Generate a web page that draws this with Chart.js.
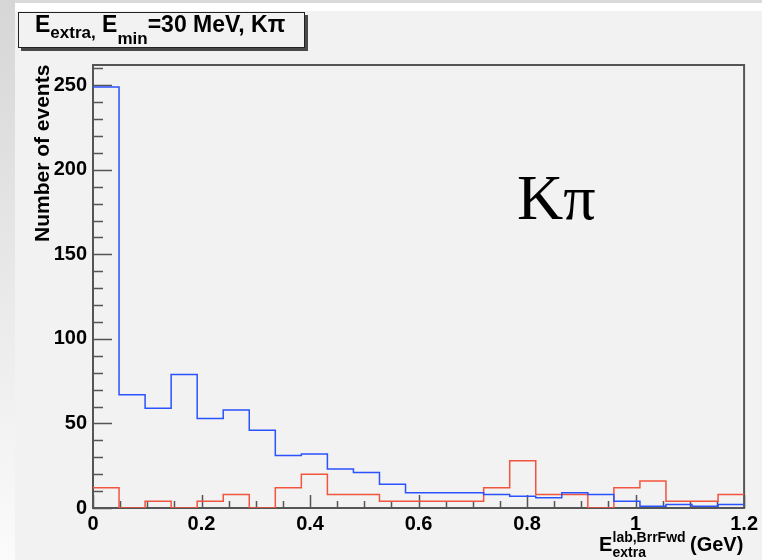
<!DOCTYPE html>
<html>
<head>
  <meta charset="UTF-8">
  <title>E extra, K pi</title>
  <script src="https://cdn.jsdelivr.net/npm/chart.js"></script>
  <style>
    html, body {
      margin: 0;
      padding: 0;
      width: 762px;
      height: 560px;
      overflow: hidden;
    }
    body {
      position: relative;
      font-family: 'Liberation Sans', Arial, sans-serif;
      background:
        linear-gradient(#d6d6d6, #fbfbfb) left top / 15px 100% no-repeat,
        linear-gradient(#dadada 0 3px, #ffffff 3px 11px, #f2f2f2 11px) ;
    }
    canvas { position: absolute; left: 0; top: 0; }
    .txt {
      position: absolute;
      white-space: nowrap;
      font-weight: bold;
      color: #000;
    }
    .mark { display: inline-block; width: 0; height: 0; vertical-align: baseline; }
    #titlebox {
      position: absolute;
      left: 18px;
      top: 12px;
      width: 285px;
      height: 34px;
      border: 1.5px solid #222;
      background: #f2f2f2;
      box-shadow: 3px 3px 0 #4a4a4a;
    }
  </style>
</head>
<body>
  <div id="titlebox"></div>
  <canvas id="chart" width="762" height="560"></canvas>

  <script>
    // bin edges (GeV), 25 bins
    const binEdges = [0, 0.048, 0.096, 0.144, 0.192, 0.24, 0.288, 0.336, 0.384, 0.432,
                      0.48, 0.528, 0.576, 0.624, 0.672, 0.72, 0.768, 0.816, 0.864, 0.912,
                      0.96, 1.008, 1.056, 1.104, 1.152, 1.2];
    const blueCounts = [249, 67, 59, 79, 53, 58, 46, 31, 32, 23, 21, 14, 9, 9, 9, 8, 7, 6, 9, 8, 4, 1, 2, 1, 2];
    const redCounts  = [12, 0, 4, 0, 4, 8, 0, 12, 20, 8, 8, 4, 4, 4, 4, 12, 28, 8, 8, 0, 12, 16, 4, 4, 8];

    const xTickValues = [0, 0.2, 0.4, 0.6, 0.8, 1, 1.2];
    const xTickLabels = ['0', '0.2', '0.4', '0.6', '0.8', '1', '1.2'];
    const yTickValues = [0, 50, 100, 150, 200, 250];
    const yTickLabels = ['0', '50', '100', '150', '200', '250'];

    function histPoints(counts) {
      // step outline: each edge carries its bin's content, last edge repeats last bin
      return binEdges.map((e, i) => ({ x: e, y: counts[Math.min(i, counts.length - 1)] }));
    }

    const tickFont = { family: "'Liberation Sans', Arial, sans-serif", size: 20, weight: 'bold' };

    // frame + inside tick marks, ROOT style
    const frameTicks = {
      id: 'frameTicks',
      beforeDatasetsDraw(chart) {
        const { ctx, chartArea: a, scales: { x, y } } = chart;
        ctx.save();
        ctx.strokeStyle = '#555';
        ctx.lineWidth = 2;
        ctx.strokeRect(a.left, a.top, a.right - a.left, a.bottom - a.top);
        ctx.lineWidth = 1.5;
        ctx.beginPath();
        for (let v = 0; v <= 260.001; v += 10) {
          const py = Math.round(y.getPixelForValue(v)) + 0.5;
          const len = (Math.round(v) % 50 === 0) ? 19 : 10;
          ctx.moveTo(a.left, py);
          ctx.lineTo(a.left + len, py);
        }
        for (let k = 0; k <= 24; k++) {
          const v = k * 0.05;
          const px = Math.round(x.getPixelForValue(v)) + 0.5;
          const len = (k % 4 === 0) ? 13 : 7;
          ctx.moveTo(px, a.bottom);
          ctx.lineTo(px, a.bottom - len);
        }
        ctx.stroke();
        ctx.restore();
      }
    };

    new Chart(document.getElementById('chart'), {
      type: 'line',
      data: {
        datasets: [
          { data: histPoints(blueCounts), borderColor: '#2a52ff', borderWidth: 1.5, stepped: true, pointRadius: 0, fill: false },
          { data: histPoints(redCounts),  borderColor: '#f2553d', borderWidth: 1.5, stepped: true, pointRadius: 0, fill: false }
        ]
      },
      options: {
        responsive: false,
        animation: false,
        devicePixelRatio: 1,
        layout: { padding: { left: 0, top: 65, right: 16, bottom: 0 } },
        plugins: { legend: { display: false }, tooltip: { enabled: false } },
        scales: {
          x: {
            type: 'linear',
            min: 0,
            max: 1.2,
            grid: { display: false, drawTicks: false },
            border: { display: false },
            afterBuildTicks: s => { s.ticks = xTickValues.map(v => ({ value: v })); },
            afterFit: s => { s.height = 52; },
            ticks: {
              color: '#000',
              font: tickFont,
              padding: 4,
              maxRotation: 0,
              autoSkip: false,
              callback: (v, i) => xTickLabels[i]
            }
          },
          y: {
            type: 'linear',
            min: 0,
            max: 262,
            grid: { display: false, drawTicks: false },
            border: { display: false },
            afterBuildTicks: s => { s.ticks = yTickValues.map(v => ({ value: v })); },
            afterFit: s => { s.width = 93; },
            ticks: {
              color: '#000',
              font: tickFont,
              padding: 6,
              callback: (v, i) => yTickLabels[i]
            }
          }
        }
      },
      plugins: [frameTicks]
    });

    // place text so its baseline sits at a given y
    function place(html, x, base, size, family, extra) {
      const d = document.createElement('div');
      d.className = 'txt';
      d.style.left = x + 'px';
      d.style.top = '0px';
      d.style.fontSize = size + 'px';
      d.style.fontFamily = family || "'Liberation Sans', Arial, sans-serif";
      if (extra) Object.assign(d.style, extra);
      d.innerHTML = html + '<span class="mark"></span>';
      document.body.appendChild(d);
      const m = d.querySelector('.mark');
      d.style.top = (base - m.offsetTop) + 'px';
      return d;
    }

    // title box text
    place('E<span style="font-size:17px;position:relative;top:6px">extra,</span> E<span style="font-size:17px;position:relative;top:12px">min</span>=30 MeV, Kπ',
          35, 31.5, 23);

    // big label
    place('Kπ', 517, 219, 64, "'Liberation Serif', 'Times New Roman', serif", { fontWeight: 'normal' });

    // x axis title
    place('E', 599, 550.5, 20);
    place('lab,BrrFwd', 612.5, 542, 14);
    place('extra', 612.5, 556.5, 14);
    place('(GeV)', 690, 550.5, 20);

    // y axis title, rotated
    const yt = place('Number of events', 0, 0, 21);
    const b = yt.querySelector('.mark').offsetTop;
    yt.style.transformOrigin = '0 0';
    yt.style.transform = 'rotate(-90deg)';
    yt.style.left = (49 - b) + 'px';
    yt.style.top = '242px';
  </script>
</body>
</html>
